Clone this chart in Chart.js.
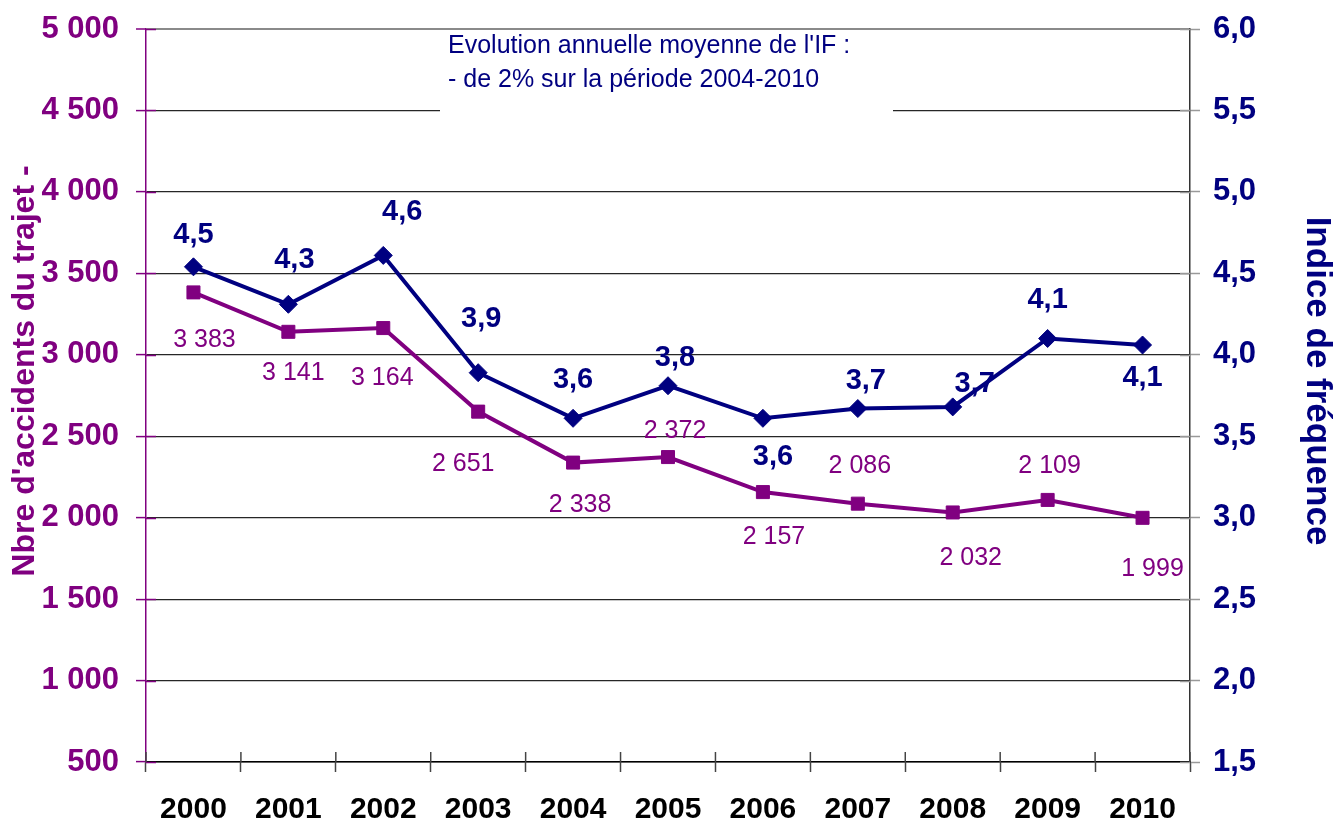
<!DOCTYPE html>
<html>
<head>
<meta charset="utf-8">
<script src="https://cdn.jsdelivr.net/npm/chart.js@4"></script>
<style>
  html, body { margin: 0; padding: 0; background: #fff; }
  #wrap { width: 1335px; height: 823px; position: relative; }
</style>
</head>
<body>
<div id="wrap"><canvas id="c"></canvas></div>
<script>
// ---- Data ----
const years = ['2000','2001','2002','2003','2004','2005','2006','2007','2008','2009','2010'];
const accidents = [3383, 3141, 3164, 2651, 2338, 2372, 2157, 2086, 2032, 2109, 1999];
const indice = [4.54, 4.31, 4.61, 3.89, 3.61, 3.81, 3.61, 3.67, 3.68, 4.10, 4.06];
const leftTitle = "Nbre d'accidents du trajet -";
const rightTitle = "Indice de fréquence";
const noteLines = ["Evolution annuelle moyenne de l'IF :", "- de 2% sur la période 2004-2010"];

// ---- Label placement (style) ----
const accOffsets = [[11,46],[5,39],[-1,48],[-15,50],[7,40],[7,-28],[11,43],[2,-40],[18,44],[2,-36],[10,49]];
const ifOffsets  = [[0,-34],[6,-46],[19,-45],[3,-56],[0,-40],[7,-30],[10,37],[8,-30],[22,-25],[0,-40],[0,31]];

const PURPLE = '#800080';
const NAVY = '#000080';
const FONT = "'Liberation Sans', Arial, sans-serif";

function fmtThousands(v) {
  return String(Math.round(v)).replace(/\B(?=(\d{3})+(?!\d))/g, ' ');
}
function fmtDec(v) {
  return v.toFixed(1).replace('.', ',');
}

const labelsPlugin = {
  id: 'pointLabels',
  afterDatasetsDraw(chart) {
    const ctx = chart.ctx;
    ctx.save();
    ctx.textAlign = 'center';
    ctx.textBaseline = 'alphabetic';
    let meta = chart.getDatasetMeta(0);
    ctx.font = "25px " + FONT;
    ctx.fillStyle = PURPLE;
    meta.data.forEach((el, i) => {
      const o = accOffsets[i];
      ctx.fillText(fmtThousands(accidents[i]), el.x + o[0], el.y + o[1] + 9);
    });
    meta = chart.getDatasetMeta(1);
    ctx.font = "bold 29px " + FONT;
    ctx.fillStyle = NAVY;
    meta.data.forEach((el, i) => {
      const o = ifOffsets[i];
      ctx.fillText(fmtDec(indice[i]), el.x + o[0], el.y + o[1] + 10);
    });
    ctx.restore();
  }
};

const decorPlugin = {
  id: 'decor',
  beforeDatasetsDraw(chart) {
    const ctx = chart.ctx;
    const a = chart.chartArea;
    ctx.save();
    ctx.fillStyle = '#ffffff';
    ctx.fillRect(440, a.top + 2, 453, 83);
    ctx.fillStyle = NAVY;
    ctx.font = "25px " + FONT;
    ctx.textAlign = 'left';
    ctx.textBaseline = 'alphabetic';
    ctx.fillText(noteLines[0], 448, 53);
    ctx.fillText(noteLines[1], 448, 87);
    ctx.restore();
  },
  afterDraw(chart) {
    const ctx = chart.ctx;
    const a = chart.chartArea;
    ctx.save();
    ctx.textAlign = 'center';
    ctx.textBaseline = 'alphabetic';
    ctx.fillStyle = PURPLE;
    ctx.font = "bold 32px " + FONT;
    ctx.translate(34, 371);
    ctx.rotate(-Math.PI / 2);
    ctx.fillText(leftTitle, 0, 0);
    ctx.restore();
    ctx.save();
    ctx.textAlign = 'center';
    ctx.textBaseline = 'alphabetic';
    ctx.fillStyle = NAVY;
    ctx.font = "bold 35px " + FONT;
    ctx.translate(1307, 381);
    ctx.rotate(Math.PI / 2);
    ctx.fillText(rightTitle, 0, 0);
    ctx.restore();
    // inner parts of tick marks crossing the axes
    ctx.save();
    ctx.lineWidth = 1.5;
    const yl = chart.scales.yLeft;
    ctx.strokeStyle = PURPLE;
    yl.ticks.forEach(t => {
      const y = Math.round(yl.getPixelForValue(t.value)) + 0.5;
      ctx.beginPath(); ctx.moveTo(a.left, y); ctx.lineTo(a.left + 10, y); ctx.stroke();
    });
    const yr = chart.scales.yRight;
    ctx.strokeStyle = '#999';
    yr.ticks.forEach(t => {
      const y = Math.round(yr.getPixelForValue(t.value)) + 0.5;
      ctx.beginPath(); ctx.moveTo(a.right - 10, y); ctx.lineTo(a.right, y); ctx.stroke();
    });
    ctx.strokeStyle = '#444';
    for (let i = 0; i <= years.length; i++) {
      const x = a.left + (a.right - a.left) * i / years.length;
      ctx.beginPath(); ctx.moveTo(x, a.bottom - 10); ctx.lineTo(x, a.bottom); ctx.stroke();
    }
    ctx.restore();
  }
};

new Chart(document.getElementById('c'), {
  type: 'line',
  data: {
    labels: years,
    datasets: [
      {
        label: leftTitle,
        data: accidents,
        yAxisID: 'yLeft',
        borderColor: PURPLE,
        backgroundColor: PURPLE,
        borderWidth: 4,
        pointStyle: 'rect',
        pointRadius: 9.2,
        pointBorderWidth: 1,
        pointBackgroundColor: PURPLE,
        pointBorderColor: PURPLE,
        tension: 0,
        fill: false
      },
      {
        label: rightTitle,
        data: indice,
        yAxisID: 'yRight',
        borderColor: NAVY,
        backgroundColor: NAVY,
        borderWidth: 4,
        pointStyle: 'rectRot',
        pointRadius: 9,
        pointBorderWidth: 1,
        pointBackgroundColor: NAVY,
        pointBorderColor: NAVY,
        tension: 0,
        fill: false
      }
    ]
  },
  options: {
    responsive: true,
    maintainAspectRatio: false,
    animation: false,
    devicePixelRatio: 1,
    layout: { padding: { top: 29, left: 0, right: 0, bottom: 0 } },
    plugins: {
      legend: { display: false },
      tooltip: { enabled: false },
      title: { display: false }
    },
    scales: {
      x: {
        type: 'category',
        offset: true,
        grid: {
          offset: true,
          drawOnChartArea: false,
          drawTicks: true,
          tickLength: 10,
          tickColor: '#444',
          tickWidth: 1.5
        },
        border: { color: '#000', width: 1.5 },
        ticks: {
          color: '#000',
          font: { family: FONT, size: 30, weight: 'bold' },
          padding: 20,
          maxRotation: 0,
          autoSkip: false
        },
        afterFit(scale) { scale.height = 61; scale.paddingLeft = 0; scale.paddingRight = 0; }
      },
      yLeft: {
        type: 'linear',
        position: 'left',
        min: 500,
        max: 5000,
        ticks: {
          stepSize: 500,
          color: PURPLE,
          font: { family: FONT, size: 31, weight: 'bold' },
          padding: 17,
          callback: (v) => fmtThousands(v)
        },
        grid: {
          color: (c) => (c.tick && c.tick.value === 5000) ? '#8a8a8a' : '#262626',
          lineWidth: (c) => (c.tick && c.tick.value === 5000) ? 2 : 1.2,
          tickColor: PURPLE,
          tickLength: 10,
          tickWidth: 1.5
        },
        border: { color: PURPLE, width: 1.5 },
        afterFit(scale) { scale.width = 146; scale.paddingTop = 0; scale.paddingBottom = 0; }
      },
      yRight: {
        type: 'linear',
        position: 'right',
        min: 1.5,
        max: 6,
        ticks: {
          stepSize: 0.5,
          color: NAVY,
          font: { family: FONT, size: 31, weight: 'bold' },
          padding: 13,
          callback: (v) => fmtDec(v)
        },
        grid: {
          drawOnChartArea: false,
          tickColor: '#999',
          tickLength: 10,
          tickWidth: 1.5
        },
        border: { color: '#333', width: 1.5 },
        afterFit(scale) { scale.width = 145; scale.paddingTop = 0; scale.paddingBottom = 0; }
      }
    }
  },
  plugins: [decorPlugin, labelsPlugin]
});
</script>
</body>
</html>
